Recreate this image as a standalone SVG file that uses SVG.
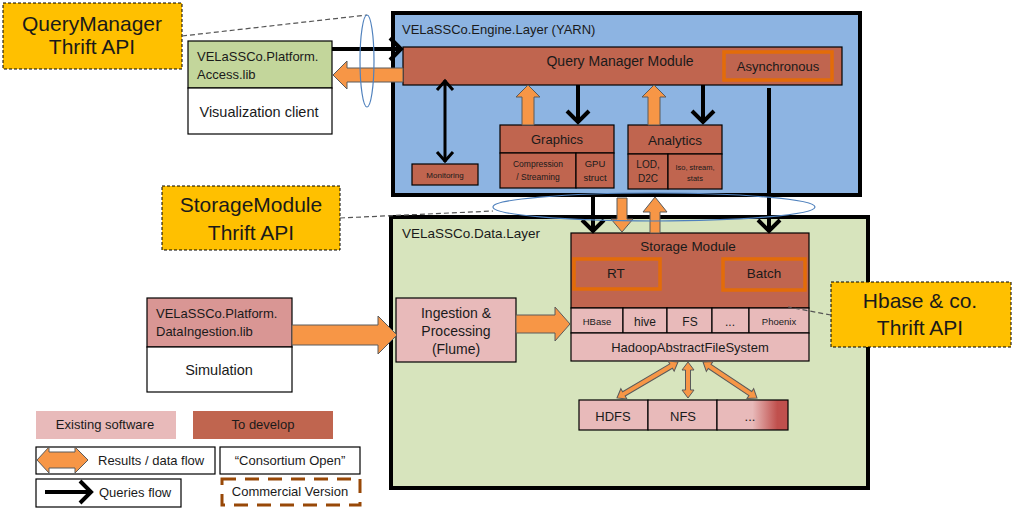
<svg xmlns="http://www.w3.org/2000/svg" width="1013" height="513" viewBox="0 0 1013 513">
<style>
text{font-family:"Liberation Sans",Arial,sans-serif;fill:#1a1a1a;}
.c{text-anchor:middle;}
.box{stroke:#000;stroke-width:1.2;}
.dev{fill:#C0654F;}
.ex{fill:#E8BABA;}
.layer{stroke:#000;stroke-width:4;}
.call{fill:#FFC000;stroke:#000;stroke-width:1;stroke-dasharray:3,2;}
.dash{fill:none;stroke:#555;stroke-width:1.2;stroke-dasharray:5,3;}
.sel{fill:none;stroke:#E36C09;stroke-width:3.5;}
.oa{fill:#F79646;stroke:#5a5a5a;stroke-width:1;}
.q{fill:none;stroke:#000;stroke-width:4;}
.ell{fill:none;stroke:#4F81BD;stroke-width:1.2;}
</style>
<defs>
<marker id="chev" markerUnits="userSpaceOnUse" markerWidth="40" markerHeight="40" viewBox="-20 -20 40 40" refX="0" refY="0" orient="auto" overflow="visible">
<path d="M-12,-11 L-1,0 L-12,11" fill="none" stroke="#000" stroke-width="4"/>
</marker>
<marker id="chevs" markerUnits="userSpaceOnUse" markerWidth="30" markerHeight="30" viewBox="-15 -15 30 30" refX="0" refY="0" orient="auto-start-reverse" overflow="visible">
<path d="M-10,-8 L-1,0 L-10,8" fill="none" stroke="#000" stroke-width="3"/>
</marker>
<linearGradient id="grad" x1="0" y1="0" x2="1" y2="0">
<stop offset="0" stop-color="#E8BABA"/>
<stop offset="0.5" stop-color="#E8BABA"/>
<stop offset="0.85" stop-color="#C0504D"/>
<stop offset="1" stop-color="#C0504D"/>
</linearGradient>
</defs>
<rect width="1013" height="513" fill="#fff"/>

<g id="callout-qm">
<rect class="call" x="3" y="3" width="179" height="66"/>
<text class="c" x="92" y="31" font-size="21">QueryManager</text>
<text class="c" x="92" y="54" font-size="21">Thrift API</text>
</g>
<g id="callout-sm">
<rect class="call" x="162" y="186" width="178" height="64"/>
<text class="c" x="251" y="212" font-size="21">StorageModule</text>
<text class="c" x="251" y="240" font-size="21">Thrift API</text>
</g>

<g id="engine-layer">
<rect class="layer" x="393" y="13" width="467" height="182" fill="#8DB4E2"/>
<text x="402" y="34" font-size="13">VELaSSCo.Engine.Layer (YARN)</text>
</g>
<g id="data-layer">
<rect class="layer" x="391" y="217" width="477" height="271" fill="#D7E4BD"/>
<text x="402" y="238" font-size="13.5">VELaSSCo.Data.Layer</text>
</g>

<g id="callout-hbase">
<rect class="call" x="831" y="282" width="180" height="65"/>
<text class="c" x="920" y="308" font-size="21">Hbase &amp; co.</text>
<text class="c" x="920" y="335" font-size="21">Thrift API</text>
</g>

<g id="access-lib">
<rect class="box" x="188" y="41" width="144" height="47" fill="#C3D69B"/>
<text x="197" y="61" font-size="13">VELaSSCo.Platform.</text>
<text x="197" y="79" font-size="13">Access.lib</text>
</g>
<g id="viz-client">
<rect class="box" x="188" y="88" width="144" height="46" fill="#fff"/>
<text class="c" x="259" y="117" font-size="14.5">Visualization client</text>
</g>

<g id="qmm">
<rect class="box dev" x="403" y="47" width="439" height="38"/>
<text class="c" x="620" y="66" font-size="14">Query Manager Module</text>
</g>
<g id="async">
<rect class="sel" x="724" y="52" width="108" height="28"/>
<text class="c" x="778" y="71" font-size="13">Asynchronous</text>
</g>
<g id="monitoring">
<rect class="box dev" x="412" y="164" width="66" height="21"/>
<text class="c" x="445" y="178" font-size="8">Monitoring</text>
</g>
<g id="graphics">
<rect class="box dev" x="500" y="125" width="114" height="28"/>
<text class="c" x="557" y="144" font-size="13">Graphics</text>
</g>
<g id="compression">
<rect class="box dev" x="500" y="153" width="76" height="35"/>
<text class="c" x="538" y="167" font-size="8.5">Compression</text>
<text class="c" x="538" y="180" font-size="8.5">/ Streaming</text>
</g>
<g id="gpu">
<rect class="box dev" x="576" y="153" width="38" height="35"/>
<text class="c" x="595" y="167" font-size="9.5">GPU</text>
<text class="c" x="595" y="181" font-size="9.5">struct</text>
</g>
<g id="analytics">
<rect class="box dev" x="628" y="125" width="94" height="29"/>
<text class="c" x="675" y="145" font-size="13.5">Analytics</text>
</g>
<g id="lod">
<rect class="box dev" x="628" y="154" width="40" height="35"/>
<text class="c" x="648" y="168" font-size="10">LOD,</text>
<text class="c" x="648" y="182" font-size="10">D2C</text>
</g>
<g id="iso">
<rect class="box dev" x="668" y="154" width="54" height="35"/>
<text class="c" x="695" y="170" font-size="7.5">Iso, stream,</text>
<text class="c" x="695" y="181" font-size="7.5">stats</text>
</g>

<g id="storage-module">
<rect class="box dev" x="571" y="233" width="238" height="75"/>
<text class="c" x="688" y="251" font-size="13.5">Storage Module</text>
</g>
<g id="rt">
<rect class="sel" x="574" y="259" width="86" height="30"/>
<text class="c" x="616" y="278" font-size="13.5">RT</text>
</g>
<g id="batch">
<rect class="sel" x="723" y="259" width="82" height="31"/>
<text class="c" x="764" y="278" font-size="13.5">Batch</text>
</g>
<g id="hbase"><rect class="box ex" x="571" y="308" width="52" height="25"/><text class="c" x="597" y="325" font-size="9.5">HBase</text></g>
<g id="hive"><rect class="box ex" x="623" y="308" width="44" height="25"/><text class="c" x="645" y="326" font-size="12">hive</text></g>
<g id="fs"><rect class="box ex" x="667" y="308" width="45" height="25"/><text class="c" x="690" y="326" font-size="12">FS</text></g>
<g id="etc1"><rect class="box ex" x="712" y="308" width="37" height="25"/><text class="c" x="730" y="326" font-size="12">...</text></g>
<g id="phoenix"><rect class="box ex" x="749" y="308" width="60" height="25"/><text class="c" x="779" y="325" font-size="9.5">Phoenix</text></g>
<g id="hafs"><rect class="box ex" x="571" y="333" width="238" height="28"/><text class="c" x="690" y="352" font-size="13">HadoopAbstractFileSystem</text></g>

<g id="hdfs"><rect class="box ex" x="579" y="400" width="69" height="30"/><text class="c" x="613" y="421" font-size="13">HDFS</text></g>
<g id="nfs"><rect class="box ex" x="648" y="400" width="69" height="30"/><text class="c" x="683" y="421" font-size="13">NFS</text></g>
<g id="etc2"><rect class="box" x="717" y="400" width="71" height="30" fill="url(#grad)"/><text class="c" x="750" y="421" font-size="13">...</text></g>

<g id="ingestion">
<rect class="box ex" x="396" y="298" width="120" height="64"/>
<text class="c" x="456" y="318" font-size="14">Ingestion &amp;</text>
<text class="c" x="456" y="336" font-size="14">Processing</text>
<text class="c" x="456" y="354" font-size="14">(Flume)</text>
</g>
<g id="data-ingestion-lib">
<rect class="box" x="147" y="298" width="145" height="49" fill="#D99694"/>
<text x="156" y="318" font-size="13">VELaSSCo.Platform.</text>
<text x="156" y="336" font-size="13">DataIngestion.lib</text>
</g>
<g id="simulation">
<rect class="box" x="147" y="347" width="145" height="45" fill="#fff"/>
<text class="c" x="219" y="375" font-size="14.5">Simulation</text>
</g>

<g id="connectors">
<line class="dash" x1="182" y1="36" x2="367" y2="15"/>
<line class="dash" x1="340" y1="218" x2="493" y2="211"/>
<line class="dash" x1="831" y1="315" x2="788" y2="307"/>
<line class="q" x1="332" y1="49" x2="402" y2="49" marker-end="url(#chev)"/>
<polygon class="oa" points="333,75 347,61 347,68 403,68 403,82 347,82 347,89"/>
<line x1="445" y1="80" x2="445" y2="162" stroke="#000" stroke-width="3" marker-start="url(#chevs)" marker-end="url(#chevs)"/>
<polygon class="oa" points="528,85 540,97 534,97 534,125 522,125 522,97 516,97"/>
<line class="q" x1="578" y1="85" x2="578" y2="123" marker-end="url(#chev)"/>
<polygon class="oa" points="654,85 666,97 660,97 660,125 648,125 648,97 642,97"/>
<line class="q" x1="703" y1="85" x2="703" y2="123" marker-end="url(#chev)"/>
<line class="q" x1="769" y1="88" x2="769" y2="232" marker-end="url(#chev)"/>
<line class="q" x1="593" y1="195" x2="593" y2="232" marker-end="url(#chev)"/>
<polygon class="oa" points="617,198 627,198 627,219 633,219 622,232 611,219 617,219"/>
<polygon class="oa" points="655,197 667,212 660,212 660,233 650,233 650,212 643,212"/>
<polygon class="oa" points="292,325 378,325 378,316 397,335 378,354 378,345 292,345"/>
<polygon class="oa" points="516,315 555,315 555,307 570,324 555,341 555,333 516,333"/>
<polygon class="oa" transform="translate(678,362) rotate(149.5)" points="0,0 8,-6 8,-2.5 62.8,-2.5 62.8,-6 70.8,0 62.8,6 62.8,2.5 8,2.5 8,6"/>
<polygon class="oa" transform="translate(688,362) rotate(90)" points="0,0 8,-6 8,-2.5 28,-2.5 28,-6 36,0 28,6 28,2.5 8,2.5 8,6"/>
<polygon class="oa" transform="translate(703,362) rotate(33.7)" points="0,0 8,-6 8,-2.5 56.9,-2.5 56.9,-6 64.9,0 56.9,6 56.9,2.5 8,2.5 8,6"/>
<ellipse class="ell" cx="367" cy="61" rx="7" ry="46"/>
<ellipse class="ell" cx="654" cy="207" rx="161" ry="14"/>
</g>

<g id="legend-existing">
<rect class="ex" x="36" y="411" width="140" height="28"/>
<text class="c" x="105" y="429" font-size="13">Existing software</text>
</g>
<g id="legend-develop">
<rect class="dev" x="193" y="411" width="140" height="28"/>
<text class="c" x="263" y="429" font-size="13">To develop</text>
</g>
<g id="legend-results">
<rect class="box" x="36" y="447" width="179" height="27" fill="#fff"/>
<polygon class="oa" points="37,460 49,447 49,452 75,452 75,447 88,460 75,473 75,468 49,468 49,473"/>
<text x="98" y="465" font-size="13">Results / data flow</text>
</g>
<g id="legend-consortium">
<rect class="box" x="220" y="447" width="140" height="27" fill="#fff"/>
<text class="c" x="290" y="465" font-size="13">“Consortium  Open”</text>
</g>
<g id="legend-queries">
<rect class="box" x="36" y="479" width="145" height="28" fill="#fff"/>
<line class="q" x1="45" y1="492" x2="92" y2="492" marker-end="url(#chev)"/>
<text x="99" y="497" font-size="13">Queries flow</text>
</g>
<g id="legend-commercial">
<rect x="222" y="479" width="138" height="26" fill="none" stroke="#984807" stroke-width="3" stroke-dasharray="14,9"/>
<text class="c" x="290" y="496" font-size="13">Commercial Version</text>
</g>
</svg>
